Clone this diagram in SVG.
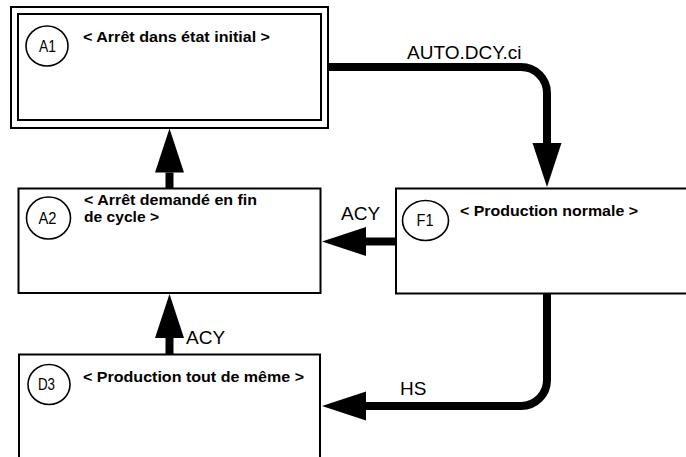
<svg xmlns="http://www.w3.org/2000/svg" width="686" height="457" viewBox="0 0 686 457">
  <style>
    .box { fill: #ffffff; stroke: #000000; stroke-width: 2; }
    .tag { fill: #ffffff; stroke: #000000; stroke-width: 1.6; }
    .tagtxt { font-family: "Liberation Sans", Arial, sans-serif; font-size: 16px; fill: #000000; text-anchor: middle; }
    .title { font-family: "Liberation Sans", Arial, sans-serif; font-size: 14.5px; font-weight: bold; fill: #000000; }
    .label { font-family: "Liberation Sans", Arial, sans-serif; font-size: 19px; fill: #000000; }
    .link { fill: none; stroke: #000000; stroke-width: 8; stroke-linecap: butt; marker-end: url(#head); }
  </style>
  <defs>
    <marker id="head" markerUnits="userSpaceOnUse" markerWidth="44" markerHeight="29" refX="0" refY="14.5" orient="auto" overflow="visible">
      <path d="M0,0 L44,14.5 L0,29 Z" fill="#000000"/>
    </marker>
  </defs>

  <rect width="686" height="457" fill="#ffffff"/>

  <!-- Connectors -->
  <g id="connectors">
    <path class="link" d="M328,67 H521 A26,26 0 0 1 547,93 V143"/>
    <path class="link" d="M396,241.5 H366"/>
    <path class="link" d="M169.5,188 V172.5"/>
    <path class="link" d="M169.5,354 V338"/>
    <path class="link" d="M547,293 V380 A26,26 0 0 1 521,406 H366"/>
    <text class="label" x="407" y="59" font-size="21">AUTO.DCY.ci</text>
    <text class="label" x="341" y="220">ACY</text>
    <text class="label" x="186" y="344">ACY</text>
    <text class="label" x="400" y="395">HS</text>
  </g>

  <!-- A1: initial step (double frame) -->
  <g id="A1">
    <rect class="box" x="11" y="7" width="317" height="121"/>
    <rect class="box" x="18" y="14" width="303" height="106"/>
    <ellipse class="tag" cx="47" cy="46" rx="21" ry="20"/>
    <text class="tagtxt" x="47.5" y="51.5" textLength="17" lengthAdjust="spacingAndGlyphs">A1</text>
    <text class="title" x="83" y="42" textLength="187" lengthAdjust="spacingAndGlyphs">&lt; Arrêt dans état initial &gt;</text>
  </g>

  <!-- A2 -->
  <g id="A2">
    <rect class="box" x="18.5" y="188.5" width="302" height="104.5"/>
    <ellipse class="tag" cx="48.5" cy="218" rx="22" ry="21"/>
    <text class="tagtxt" x="47.5" y="223.5" textLength="18" lengthAdjust="spacingAndGlyphs">A2</text>
    <text class="title" x="84" y="205" textLength="173" lengthAdjust="spacingAndGlyphs">&lt; Arrêt demandé en fin</text>
    <text class="title" x="84" y="222" textLength="75" lengthAdjust="spacingAndGlyphs">de cycle &gt;</text>
  </g>

  <!-- F1 -->
  <g id="F1">
    <rect class="box" x="396" y="188.5" width="300" height="105"/>
    <ellipse class="tag" cx="425.5" cy="220.5" rx="23" ry="20"/>
    <text class="tagtxt" x="425" y="226" textLength="17" lengthAdjust="spacingAndGlyphs">F1</text>
    <text class="title" x="460" y="215.5" textLength="178" lengthAdjust="spacingAndGlyphs">&lt; Production normale &gt;</text>
  </g>

  <!-- D3 -->
  <g id="D3">
    <rect class="box" x="19" y="354.5" width="301" height="115"/>
    <ellipse class="tag" cx="49" cy="384.5" rx="21" ry="20"/>
    <text class="tagtxt" x="46.5" y="390" textLength="17" lengthAdjust="spacingAndGlyphs">D3</text>
    <text class="title" x="83" y="382" textLength="221" lengthAdjust="spacingAndGlyphs">&lt; Production tout de même &gt;</text>
  </g>
</svg>
